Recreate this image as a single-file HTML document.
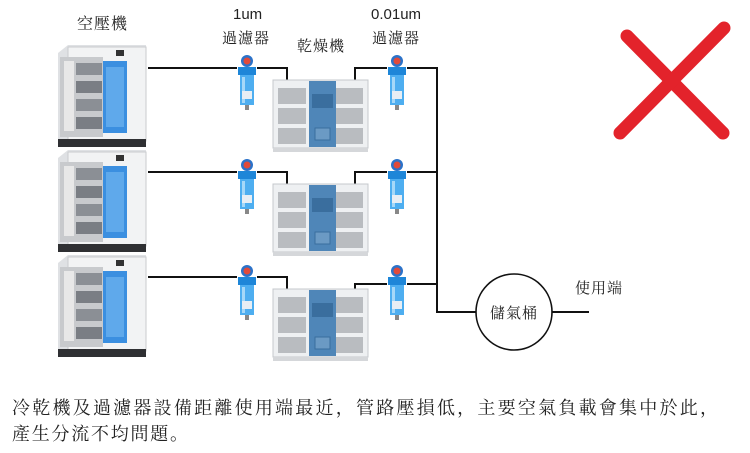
<!DOCTYPE html>
<html><head><meta charset="utf-8"><style>
html,body{margin:0;padding:0;background:#fff;width:750px;height:453px;overflow:hidden}
svg{display:block}
.cj{font-family:"Liberation Serif","Noto Serif CJK SC",serif;fill:#222}
.cjb{font-family:"Noto Serif CJK SC","Noto Sans CJK TC",serif;fill:#222}
.la{font-family:"Liberation Sans",sans-serif;fill:#222}
</style></head><body>
<svg width="750" height="453" viewBox="0 0 750 453">
<defs>
<g id="comp">
 <polygon points="0,8 10,0 88,0 88,96 10,102 0,96" fill="#dfe1e4"/>
 <rect x="10" y="2" width="78" height="94" fill="#f2f3f4" stroke="#c9cbce"/>
 <rect x="2" y="12" width="43" height="80" fill="#c8cacd"/>
 <rect x="6" y="16" width="10" height="70" fill="#e8e8e8"/>
 <rect x="18" y="18" width="26" height="12" fill="#8b8f95"/>
 <rect x="18" y="36" width="26" height="12" fill="#7a7e84"/>
 <rect x="18" y="54" width="26" height="12" fill="#8b8f95"/>
 <rect x="18" y="72" width="26" height="12" fill="#7a7e84"/>
 <rect x="45" y="16" width="24" height="72" fill="#3b8fe0"/>
 <rect x="48" y="22" width="18" height="60" fill="#6fb3ef" opacity="0.7"/>
 <rect x="58" y="5" width="8" height="6" fill="#333"/>
 <rect x="0" y="94" width="88" height="8" fill="#2f3033"/>
</g>
<g id="filt">
 <circle cx="10" cy="6" r="6" fill="#2b72c9"/>
 <circle cx="10" cy="6" r="3.5" fill="#e04a3a"/>
 <rect x="1" y="12" width="18" height="8" fill="#1e86d8"/>
 <rect x="3" y="20" width="14" height="30" fill="#4eaef0"/>
 <rect x="5" y="22" width="3" height="26" fill="#a6d8f8"/>
 <rect x="5" y="36" width="10" height="8" fill="#e8eef4"/>
 <rect x="8" y="50" width="4" height="5" fill="#888"/>
</g>
<g id="dry">
 <rect x="0" y="0" width="95" height="68" fill="#eef0f2" stroke="#c5c8cc"/>
 <rect x="5" y="8" width="28" height="16" fill="#b9bcc0"/>
 <rect x="5" y="28" width="28" height="16" fill="#b9bcc0"/>
 <rect x="5" y="48" width="28" height="16" fill="#b9bcc0"/>
 <rect x="62" y="8" width="28" height="16" fill="#b9bcc0"/>
 <rect x="62" y="28" width="28" height="16" fill="#b9bcc0"/>
 <rect x="62" y="48" width="28" height="16" fill="#b9bcc0"/>
 <rect x="36" y="1" width="27" height="66" fill="#4f86b8"/>
 <rect x="39" y="14" width="21" height="14" fill="#3a6e9e"/>
 <rect x="42" y="48" width="15" height="12" fill="#6b9ac4" stroke="#3a6e9e"/>
 <rect x="0" y="68" width="95" height="4" fill="#d5d7da"/>
</g>
</defs>

<g stroke="#111" stroke-width="2" fill="none">
 <polyline points="148,68 237,68"/>
 <polyline points="257,68 287,68 287,80"/>
 <polyline points="355,80 355,68 387,68"/>
 <polyline points="148,172 237,172"/>
 <polyline points="257,172 287,172 287,184"/>
 <polyline points="355,184 355,172 387,172"/>
 <polyline points="148,277 237,277"/>
 <polyline points="257,277 287,277 287,289"/>
 <polyline points="355,289 355,284 387,284"/>
 <polyline points="407,68 437,68 437,312 476,312"/>
 <line x1="407" y1="172" x2="437" y2="172"/>
 <line x1="407" y1="284" x2="437" y2="284"/>
 <line x1="552" y1="312" x2="589" y2="312"/>
 <circle cx="514" cy="312" r="38" stroke-width="1.6"/>
</g>

<use href="#comp" x="58" y="45"/>
<use href="#comp" x="58" y="150"/>
<use href="#comp" x="58" y="255"/>
<use href="#filt" x="237" y="55"/>
<use href="#filt" x="237" y="159"/>
<use href="#filt" x="237" y="265"/>
<use href="#filt" x="387" y="55"/>
<use href="#filt" x="387" y="159"/>
<use href="#filt" x="387" y="265"/>
<use href="#dry" x="273" y="80"/>
<use href="#dry" x="273" y="184"/>
<use href="#dry" x="273" y="289"/>

<g stroke="#e3232b" stroke-width="13" stroke-linecap="round" fill="none">
 <line x1="627" y1="36" x2="723" y2="133"/>
 <line x1="724" y1="28" x2="620" y2="133"/>
</g>

<text class="cj" x="77" y="29" font-size="16" letter-spacing="1">空壓機</text>
<text class="la" x="233" y="19" font-size="15">1um</text>
<text class="cj" x="222" y="43" font-size="15" letter-spacing="1">過濾器</text>
<text class="cj" x="297" y="51" font-size="15" letter-spacing="1">乾燥機</text>
<text class="la" x="371" y="19" font-size="15">0.01um</text>
<text class="cj" x="372" y="43" font-size="15" letter-spacing="1">過濾器</text>
<text class="cj" x="490" y="318" font-size="15" letter-spacing="1">儲氣桶</text>
<text class="cj" x="575" y="293" font-size="15" letter-spacing="1">使用端</text>
<text class="cjb" x="12" y="414" font-size="18" textLength="706" lengthAdjust="spacing">冷乾機及過濾器設備距離使用端最近，管路壓損低，主要空氣負載會集中於此，</text>
<text class="cjb" x="12" y="440" font-size="18" textLength="176" lengthAdjust="spacing">產生分流不均問題。</text>
</svg>
</body></html>
